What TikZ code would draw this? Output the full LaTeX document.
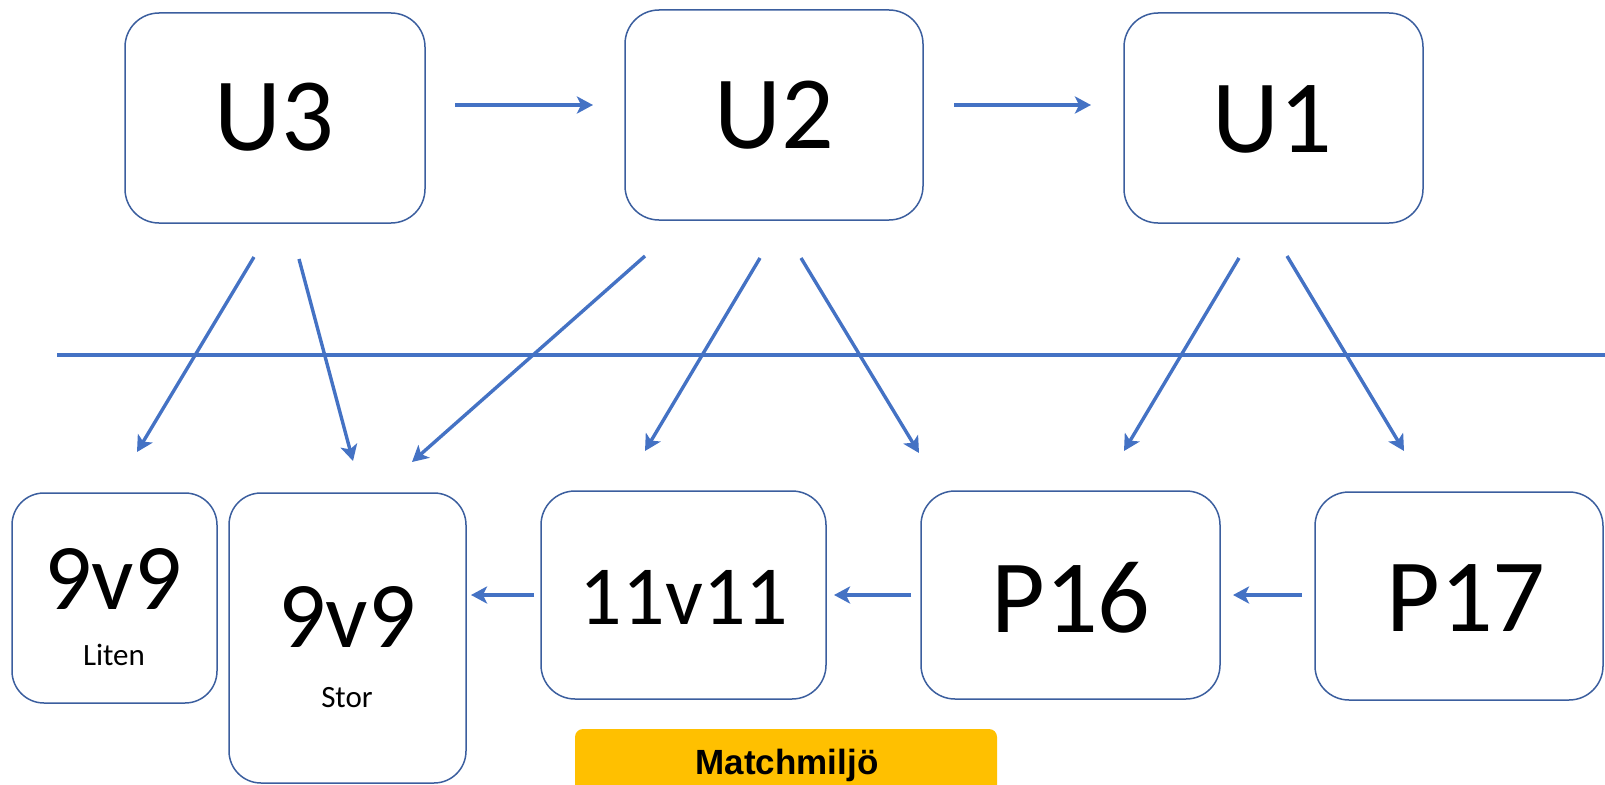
\documentclass[tikz,border=0pt]{standalone}
\usepackage{fontspec}
\setmainfont{Carlito}
\newfontfamily\arialfont{Liberation Sans}
\usetikzlibrary{arrows.meta}
\definecolor{lineblue}{HTML}{4472C4}
\definecolor{boxblue}{HTML}{3B5E9E}
\definecolor{goldfill}{HTML}{FFC000}
\begin{document}
\begin{tikzpicture}[x=1pt,y=-1pt,
  box/.style={draw=boxblue, line width=1.5pt, rounded corners=34pt, inner sep=0pt, outer sep=0pt},
  conn/.style={draw=lineblue, line width=3.4pt, -{Stealth[length=16pt,width=17pt,inset=4pt]}},
  bigtxt/.style={inner sep=0pt, font=\fontsize{104}{110}\selectfont},
  midtxt/.style={inner sep=0pt, font=\fontsize{94}{100}\selectfont},
  smalltxt/.style={inner sep=0pt, font=\fontsize{31}{36}\selectfont},
  tag/.style={fill=goldfill, rounded corners=8pt, inner sep=0pt, outer sep=0pt}
]
\useasboundingbox (0,0) rectangle (1605,784);
\clip (0,0) rectangle (1605,784);

% top boxes
\node[box, minimum width=300pt, minimum height=210pt] (u3) at (275,118) {};
\node[box, minimum width=298pt, minimum height=210pt] (u2) at (774,115) {};
\node[box, minimum width=299pt, minimum height=210pt] (u1) at (1273.5,118) {};
\node[bigtxt] (u3t) at (274,117) {U3};
\node[bigtxt] (u2t) at (774,115) {U2};
\node[bigtxt] (u1t) at (1272,119) {U1};

% bottom boxes
\node[box, rounded corners=32pt, minimum width=205pt, minimum height=210pt] (liten) at (114.5,598) {};
\node[box, rounded corners=32pt, minimum width=237pt, minimum height=290pt] (stor) at (347.5,638) {};
\node[box, minimum width=285pt, minimum height=208pt] (elva) at (683.5,595) {};
\node[box, minimum width=299pt, minimum height=208pt] (p16) at (1070.5,595) {};
\node[box, minimum width=288pt, minimum height=208pt] (p17) at (1459,596) {};

\node[midtxt] (litent) at (113,579) {9v9};
\node[smalltxt] (litens) at (114,655) {Liten};
\node[midtxt] (stort) at (347,617) {9v9};
\node[smalltxt] (stors) at (347,698) {Stor};
\node[inner sep=0pt, font=\fontsize{84}{90}\selectfont] (elvat) at (684,597) {11v11};
\node[bigtxt] (p16t) at (1071,598) {P16};
\node[bigtxt] (p17t) at (1466,598) {P17};

% Matchmiljo tag
\node[tag, minimum width=422pt, minimum height=80pt] (mm) at (786,769) {};
\node[anchor=base, inner sep=0pt, font=\arialfont\bfseries\fontsize{35}{40}\selectfont] (mmt) at (787,774) {Matchmiljö};

% divider line
\coordinate (lineL) at (57,355);
\coordinate (lineR) at (1605,355);
\draw[draw=lineblue, line width=3.4pt] (lineL) -- (lineR);

% endpoints
\coordinate (a1s) at (455,105); \coordinate (a1e) at (593,105);
\coordinate (a2s) at (954,105); \coordinate (a2e) at (1091,105);
\coordinate (d1s) at (254,257); \coordinate (d1e) at (137,452);
\coordinate (d2s) at (299,259); \coordinate (d2e) at (353,461);
\coordinate (d3s) at (645,256); \coordinate (d3e) at (412,462);
\coordinate (d4s) at (760,258); \coordinate (d4e) at (645,451);
\coordinate (d5s) at (801,258); \coordinate (d5e) at (919,453);
\coordinate (d6s) at (1239,258); \coordinate (d6e) at (1124,451);
\coordinate (d7s) at (1287,256); \coordinate (d7e) at (1404,451);
\coordinate (b1s) at (534,595); \coordinate (b1e) at (471,595);
\coordinate (b2s) at (911,595); \coordinate (b2e) at (834,595);
\coordinate (b3s) at (1302,595); \coordinate (b3e) at (1233,595);

\draw[conn] (a1s) -- (a1e);
\draw[conn] (a2s) -- (a2e);
\draw[conn] (d1s) -- (d1e);
\draw[conn] (d2s) -- (d2e);
\draw[conn] (d3s) -- (d3e);
\draw[conn] (d4s) -- (d4e);
\draw[conn] (d5s) -- (d5e);
\draw[conn] (d6s) -- (d6e);
\draw[conn] (d7s) -- (d7e);
\draw[conn] (b1s) -- (b1e);
\draw[conn] (b2s) -- (b2e);
\draw[conn] (b3s) -- (b3e);
\end{tikzpicture}
\end{document}
